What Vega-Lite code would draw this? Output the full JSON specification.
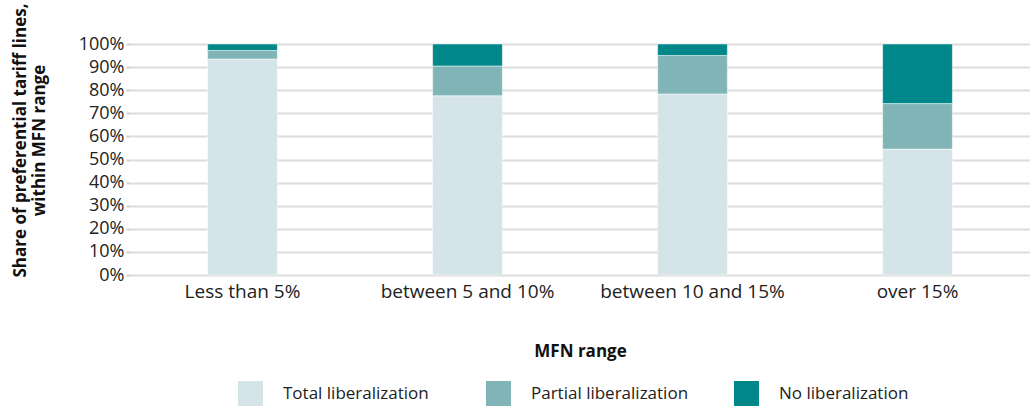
{
  "$schema": "https://vega.github.io/schema/vega-lite/v6.json",
  "width": 900,
  "height": 231,
  "autosize": "none",
  "padding": {"left": 130, "top": 44, "right": 0, "bottom": 131},
  "background": "white",
  "data": {
    "values": [
      {"range": "Less than 5%", "type": "Total liberalization", "ord": 1, "share": 93.5},
      {"range": "Less than 5%", "type": "Partial liberalization", "ord": 2, "share": 3.7},
      {"range": "Less than 5%", "type": "No liberalization", "ord": 3, "share": 2.8},
      {"range": "between 5 and 10%", "type": "Total liberalization", "ord": 1, "share": 77.6},
      {"range": "between 5 and 10%", "type": "Partial liberalization", "ord": 2, "share": 12.9},
      {"range": "between 5 and 10%", "type": "No liberalization", "ord": 3, "share": 9.5},
      {"range": "between 10 and 15%", "type": "Total liberalization", "ord": 1, "share": 78.4},
      {"range": "between 10 and 15%", "type": "Partial liberalization", "ord": 2, "share": 16.6},
      {"range": "between 10 and 15%", "type": "No liberalization", "ord": 3, "share": 5.0},
      {"range": "over 15%", "type": "Total liberalization", "ord": 1, "share": 54.5},
      {"range": "over 15%", "type": "Partial liberalization", "ord": 2, "share": 19.7},
      {"range": "over 15%", "type": "No liberalization", "ord": 3, "share": 25.8}
    ]
  },
  "config": {
    "font": "Open Sans",
    "view": {"stroke": null},
    "axis": {"labelColor": "#222", "titleColor": "#111", "labelFontSize": 19, "titleFontSize": 17, "titleFontWeight": "bold", "labelLimit": 300}
  },
  "mark": {"type": "bar", "stroke": "white", "strokeWidth": 0.5},
  "encoding": {
    "x": {
      "field": "range",
      "type": "nominal",
      "sort": null,
      "scale": {"paddingInner": 0.69, "paddingOuter": 0.345},
      "axis": {"title": "MFN range", "labelAngle": 0, "domain": false, "ticks": false, "labelPadding": 7, "titlePadding": 42}
    },
    "y": {
      "field": "share",
      "type": "quantitative",
      "stack": "zero",
      "scale": {"domain": [0, 100]},
      "axis": {
        "title": ["Share of preferential tariff lines,", "within MFN range"],
        "values": [0, 10, 20, 30, 40, 50, 60, 70, 80, 90, 100],
        "labelExpr": "datum.value + '%'",
        "labelFontSize": 18,
        "domain": false,
        "ticks": true,
        "tickSize": 4,
        "tickColor": "#d0d0d0",
        "tickWidth": 2,
        "gridColor": "#dcdcdc",
        "gridWidth": 2,
        "labelPadding": 2,
        "titlePadding": 30,
        "titleY": 96
      }
    },
    "color": {
      "field": "type",
      "type": "nominal",
      "sort": ["Total liberalization", "Partial liberalization", "No liberalization"],
      "scale": {"domain": ["Total liberalization", "Partial liberalization", "No liberalization"], "range": ["#d5e4e8", "#80b4b7", "#008789"]},
      "legend": {
        "title": null,
        "orient": "none",
        "legendX": 108,
        "legendY": 337,
        "direction": "horizontal",
        "gridAlign": "all",
        "symbolType": "square",
        "symbolSize": 625,
        "symbolStrokeWidth": 0,
        "labelFontSize": 17,
        "labelColor": "#222",
        "labelOffset": 20,
        "columnPadding": 45,
        "labelLimit": 300
      }
    },
    "order": {"field": "ord", "type": "quantitative"}
  }
}
